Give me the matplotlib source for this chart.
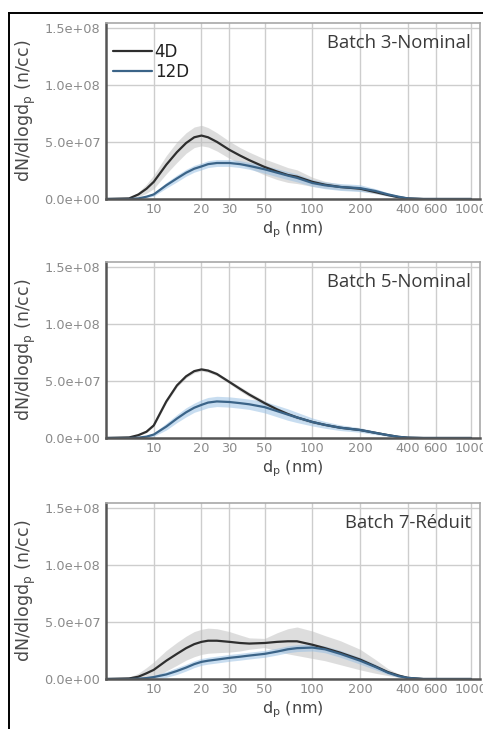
import matplotlib
matplotlib.use("Agg")
import matplotlib.pyplot as plt
from matplotlib.lines import Line2D
import numpy as np

# diameters (nm)
dp = [5, 7, 8, 9, 10, 12, 14, 16, 18, 20, 22, 25, 30, 35, 40, 50, 60, 70, 80,
      100, 120, 150, 200, 250, 300, 350, 400, 500, 600, 1000]

# values in units of 1e6 n/cc
b3_4d = [0, 0.5, 4, 9, 15, 30, 41, 49, 54, 55.5, 54, 50, 43, 38, 34, 28, 24, 21, 19.5,
         15, 12.5, 10.5, 9, 6, 3.5, 1.5, 0.5, 0, 0, 0]
b3_4d_sd = [0, 0.5, 2, 4, 6, 8, 9, 9, 9, 9, 8.5, 8, 7.5, 7, 7, 7, 7, 6.5, 6,
            4, 3, 2.5, 2, 1.5, 1, 0.5, 0.3, 0, 0, 0]
b3_12d = [0, 0, 0.5, 2, 4, 12, 18, 23, 26.5, 28.5, 30.5, 31.5, 31.5, 30.5, 29, 26, 23, 20.5, 18.5,
          14, 12, 10.5, 9.5, 7, 4, 2, 0.5, 0, 0, 0]
b3_12d_sd = [0, 0, 0.3, 0.8, 1.5, 2.5, 3, 3, 3, 3, 3, 3, 3, 3, 3, 3.5, 3.5, 3.5, 3.5,
             3, 3, 3, 3, 2, 1.5, 1, 0.5, 0, 0, 0]

b5_4d = [0, 0.5, 2.5, 5.5, 11, 32, 46, 54, 58.5, 60, 59, 56, 49, 43, 38, 30.5, 25, 21, 18,
         14, 11.5, 9, 7, 4.5, 2.5, 1, 0.3, 0, 0, 0]
b5_4d_sd = [0, 0.2, 0.5, 0.8, 1, 1.5, 1.5, 1.5, 1.5, 1.5, 1.5, 1.5, 1.5, 2, 2, 2, 1.5, 1.5, 1.5,
            1.5, 1, 1, 1, 0.5, 0.5, 0.3, 0.1, 0, 0, 0]
b5_12d = [0, 0, 0.3, 1.2, 3, 10, 17, 22.5, 26.5, 29, 31, 32, 31.5, 30.5, 29.5, 27, 23.5, 20.5, 18,
          14, 11.5, 9, 7, 4.5, 2.5, 1, 0.3, 0, 0, 0]
b5_12d_sd = [0, 0, 0.3, 0.8, 1.5, 3, 3.5, 4, 4, 4.5, 4.5, 4.5, 4.5, 4.5, 4.5, 5, 5, 5, 4.5,
             3.5, 3, 2.5, 2, 1.5, 1, 0.5, 0.2, 0, 0, 0]

b7_4d = [0, 0.5, 2, 5, 8, 16, 22, 27, 30.5, 32.5, 33.5, 33.5, 32.5, 31.5, 31, 31.5, 32.5, 33, 33,
         30, 27, 23, 17, 11, 6, 3, 1, 0, 0, 0]
b7_4d_sd = [0, 1, 3, 5, 7, 9, 10, 10.5, 11, 11, 11, 10.5, 9, 7, 5, 4, 8, 11, 12.5,
            12, 11, 10.5, 9, 6, 3, 1.5, 0.5, 0, 0, 0]
b7_12d = [0, 0, 0.3, 0.8, 1.7, 4, 7, 10, 13, 15, 16, 17, 18.5, 19.5, 20.5, 22, 24, 26, 27,
          27.5, 26, 22, 16, 10.5, 5.5, 2.5, 1, 0, 0, 0]
b7_12d_sd = [0, 0, 0.3, 0.8, 1.5, 2.5, 3, 3, 3, 3, 3, 3, 3, 3, 3, 3, 3, 3, 3,
             3, 3, 3, 3, 2.5, 1.5, 1, 0.5, 0, 0, 0]

panels = [
    ("Batch 3-Nominal", b3_4d, b3_4d_sd, b3_12d, b3_12d_sd),
    ("Batch 5-Nominal", b5_4d, b5_4d_sd, b5_12d, b5_12d_sd),
    ("Batch 7-Réduit", b7_4d, b7_4d_sd, b7_12d, b7_12d_sd),
]
series_labels = ["4D", "12D"]
xticks = [10, 20, 30, 50, 100, 200, 400, 600, 1000]
yticks = [0, 5e7, 1e8, 1.5e8]
ytick_labels = ["0.0e+00", "5.0e+07", "1.0e+08", "1.5e+08"]

W, H = 483, 729
fig = plt.figure(figsize=(W / 100, H / 100), dpi=100)

# outer frame
fx = 8.5 / W
fy = 1 - 13 / H
fig.add_artist(Line2D([fx, fx], [0, fy], transform=fig.transFigure, color="black", lw=1.4))
fig.add_artist(Line2D([fx, 1], [fy, fy], transform=fig.transFigure, color="black", lw=1.4))

# axes pixel boxes (top, bottom)
boxes = [(23, 199), (262, 438), (503, 679)]
left_px, right_px = 106, 480

c_black = "#2e2e2e"
c_blue = "#3b6488"
c_gray_band = "#bdbdbd"
c_blue_band = "#92bde3"

x = np.array(dp, dtype=float)
for i, (title, m4, s4, m12, s12) in enumerate(panels):
    top, bot = boxes[i]
    ax = fig.add_axes([left_px / W, 1 - bot / H, (right_px - left_px) / W, (bot - top) / H])
    m4a = np.array(m4) * 1e6
    s4a = np.array(s4) * 1e6
    m12a = np.array(m12) * 1e6
    s12a = np.array(s12) * 1e6
    ax.fill_between(x, m4a - s4a, m4a + s4a, color=c_gray_band, alpha=0.5, lw=0)
    ax.fill_between(x, m12a - s12a, m12a + s12a, color=c_blue_band, alpha=0.5, lw=0)
    ax.plot(x, m4a, color=c_black, lw=1.6, label=series_labels[0], solid_capstyle="round",
            solid_joinstyle="round")
    ax.plot(x, m12a, color=c_blue, lw=1.6, label=series_labels[1], solid_capstyle="round",
            solid_joinstyle="round")
    ax.set_xscale("log")
    ax.set_xlim(5, 1140)
    ax.set_ylim(0, 1.54e8)
    ax.set_xticks(xticks)
    ax.set_xticklabels([str(t) for t in xticks])
    ax.xaxis.set_minor_locator(matplotlib.ticker.NullLocator())
    ax.set_yticks(yticks)
    ax.set_yticklabels(ytick_labels)
    ax.tick_params(axis="both", length=0, labelsize=9.3, labelcolor="#8a8a8a")
    ax.tick_params(axis="x", pad=3)
    ax.tick_params(axis="y", pad=4)
    ax.grid(True, color="#cdcdcd", lw=1.0)
    ax.set_axisbelow(True)
    for s in ["left", "bottom"]:
        ax.spines[s].set_color("#555555")
        ax.spines[s].set_linewidth(1.8)
    for s in ["top", "right"]:
        ax.spines[s].set_color("#a8a8a8")
        ax.spines[s].set_linewidth(1.2)
    ax.set_ylabel("dN/dlogd$_\\mathregular{p}$ (n/cc)", fontsize=12.5, color="#4a4a4a", labelpad=5)
    ax.set_xlabel("d$_\\mathregular{p}$ (nm)", fontsize=11.5, color="#444444", labelpad=2)
    ax.text(0.975, 0.885, title, transform=ax.transAxes, ha="right", va="center",
            fontsize=13.3, color="#3a3a3a", family="Open Sans")
    if i == 0:
        ax.legend(loc="upper left", bbox_to_anchor=(7 / 374, 0.885), frameon=False,
                  fontsize=12, handlelength=2.35, handletextpad=0.15, labelspacing=0.12,
                  borderaxespad=0.0, borderpad=0.0, labelcolor="#222222")

fig.savefig("out.png", dpi=100)
